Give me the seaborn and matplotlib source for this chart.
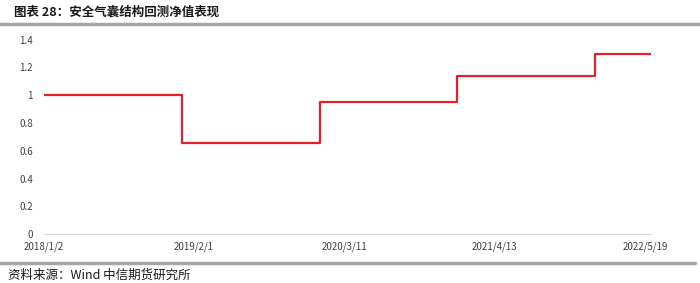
import numpy as np
import pandas as pd
import matplotlib
matplotlib.use("Agg")
import matplotlib.pyplot as plt
import seaborn as sns

# ---- data ----
segment_start_dates = ["2018/1/2", "2019/1/2", "2020/1/2", "2021/1/4", "2022/1/4"]
segment_trading_days = [243, 244, 243, 243, 99]
segment_values = [1.0, 0.655, 0.95, 1.14, 1.295]
tick_labels = ["2018/1/2", "2019/2/1", "2020/3/11", "2021/4/13", "2022/5/19"]
tick_index = [0, 265, 531, 796, 1062]
y_ticks = [0, 0.2, 0.4, 0.6, 0.8, 1.0, 1.2, 1.4]
y_tick_labels = ["0", "0.2", "0.4", "0.6", "0.8", "1", "1.2", "1.4"]

title_text = "图表 28：安全气囊结构回测净值表现"
source_text = "资料来源：Wind 中信期货研究所"

# ---- build table ----
starts = np.concatenate([[0], np.cumsum(segment_trading_days)[:-1]])
end_idx = int(np.sum(segment_trading_days))
df = pd.DataFrame({
    "idx": list(starts) + [end_idx],
    "value": segment_values + [segment_values[-1]],
})

sns.set_theme(style="white")
plt.rcParams["font.family"] = ["Noto Sans CJK SC", "DejaVu Sans"]

fig = plt.figure(figsize=(7.0, 2.83), dpi=100)
ax = fig.add_axes([44 / 700, 1 - 234.3 / 283, (651 - 44) / 700, (234.3 - 39.7) / 283])

sns.lineplot(data=df, x="idx", y="value", ax=ax, color="#e5202b",
             linewidth=1.6, drawstyle="steps-post", legend=False)

ax.set_xlim(0, end_idx)
ax.set_ylim(0, 1.4)
ax.set_xticks(tick_index)
ax.set_xticklabels(tick_labels, fontsize=7, color="#404040")
ax.set_yticks(y_ticks)
ax.set_yticklabels(y_tick_labels, fontsize=7, color="#404040")
ax.tick_params(axis="both", length=0)
ax.tick_params(axis="y", pad=8)
ax.tick_params(axis="x", pad=5)
ax.set_xlabel("")
ax.set_ylabel("")
for s in ["top", "right", "left"]:
    ax.spines[s].set_visible(False)
ax.spines["bottom"].set_color("#d9d9d9")
ax.spines["bottom"].set_linewidth(0.8)
ax.grid(False)

# title and decorations
fig.text(14 / 700, 1 - 12 / 283, title_text, fontsize=9, fontweight="bold",
         color="#1a1a1a", ha="left", va="center")
fig.add_artist(plt.Line2D([0, 1], [1 - 23.5 / 283, 1 - 23.5 / 283],
                          transform=fig.transFigure, color="#a6a6a6", linewidth=2.5))
fig.add_artist(plt.Line2D([0, 695 / 700], [1 - 262.5 / 283, 1 - 262.5 / 283],
                          transform=fig.transFigure, color="#a6a6a6", linewidth=2.5))
fig.text(8 / 700, 1 - 275 / 283, source_text, fontsize=9, color="#1a1a1a",
         ha="left", va="center")

fig.savefig("out.png", dpi=100)
